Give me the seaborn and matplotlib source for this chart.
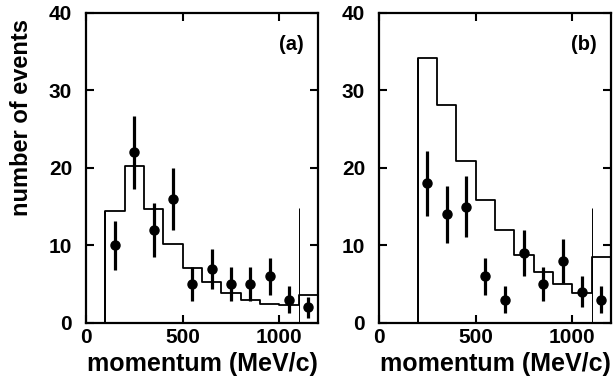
import numpy as np
import pandas as pd
import matplotlib
matplotlib.use("Agg")
import matplotlib.pyplot as plt
import seaborn as sns

sns.set_theme(style="ticks", rc={"text.color": "black", "axes.labelcolor": "black",
                                 "xtick.color": "black", "ytick.color": "black"})
plt.rcParams['font.family'] = ['Liberation Sans', 'DejaVu Sans']
plt.rcParams['font.weight'] = 'bold'

# bin edges (MeV/c) and histogram contents
bin_edges = [0, 100, 200, 300, 400, 500, 600, 700, 800, 900, 1000, 1100, 1200]
hist_a = [0, 14.5, 20.2, 14.7, 10.2, 7.1, 5.3, 3.9, 2.9, 2.4, 2.3, 3.6]
hist_b = [0, 0, 34.2, 28.1, 20.9, 15.9, 12.0, 8.7, 6.6, 5.0, 3.9, 8.5]

# data points
mom_a = [150, 250, 350, 450, 550, 650, 750, 850, 950, 1050, 1150]
cnt_a = [10, 22, 12, 16, 5, 7, 5, 5, 6, 3, 2]
err_a = [3.2, 4.7, 3.5, 4.0, 2.2, 2.6, 2.2, 2.2, 2.4, 1.7, 1.4]

mom_b = [250, 350, 450, 550, 650, 750, 850, 950, 1050, 1150]
cnt_b = [18, 14, 15, 6, 3, 9, 5, 8, 4, 3]
err_b = [4.2, 3.7, 3.9, 2.4, 1.7, 3.0, 2.2, 2.8, 2.0, 1.7]

# thin marker line at the 1100 MeV/c cut
cut_x = 1100
cut_top = 14.8

panels = [("(a)", hist_a, mom_a, cnt_a, err_a),
          ("(b)", hist_b, mom_b, cnt_b, err_b)]

fig = plt.figure(figsize=(6.13, 3.90), dpi=100)
ax_pos = [[0.1403, 0.172, 0.3785, 0.795], [0.6183, 0.172, 0.3785, 0.795]]

centers = [(bin_edges[i] + bin_edges[i + 1]) / 2 for i in range(len(bin_edges) - 1)]

for pos, (tag, hist, mom, cnt, err) in zip(ax_pos, panels):
    ax = fig.add_axes(pos)
    df = pd.DataFrame({"p": centers, "w": hist})
    sns.histplot(data=df, x="p", weights="w", bins=bin_edges, element="step",
                 fill=False, color="black", linewidth=1.3, ax=ax)
    # left edge of the histogram drops to zero
    first = next(i for i, h in enumerate(hist) if h > 0)
    ax.vlines(bin_edges[first], 0, hist[first], color="black", linewidth=1.3)
    ax.vlines(cut_x, 0, cut_top, color="black", linewidth=0.7)
    ax.errorbar(mom, cnt, yerr=err, fmt="o", color="black", markersize=6.5,
                elinewidth=2.3, capsize=0)
    ax.set_xlim(0, 1200)
    ax.set_ylim(0, 40)
    ax.set_xticks([0, 500, 1000])
    ax.set_yticks([0, 10, 20, 30, 40])
    ax.tick_params(direction="in", top=True, right=True, length=6, width=1.5,
                   labelsize=15, colors="black")
    ax.tick_params(axis="x", pad=4)
    ax.tick_params(axis="y", pad=10)
    for lab in ax.get_xticklabels() + ax.get_yticklabels():
        lab.set_fontweight("bold")
    for sp in ax.spines.values():
        sp.set_visible(True)
        sp.set_linewidth(1.6)
        sp.set_color("black")
    ax.set_xlabel("momentum (MeV/c)", fontsize=18, fontweight="bold", labelpad=3,
                  color="black")
    ax.set_ylabel("")
    ax.text(0.94, 0.93, tag, transform=ax.transAxes, ha="right", va="top",
            fontsize=14.5, fontweight="bold", color="black")
    if tag == "(a)":
        ax.set_ylabel("number of events", fontsize=17, fontweight="bold", color="black")
        ax.yaxis.set_label_coords(-0.23, 0.663)

fig.savefig("out.png", dpi=100)
